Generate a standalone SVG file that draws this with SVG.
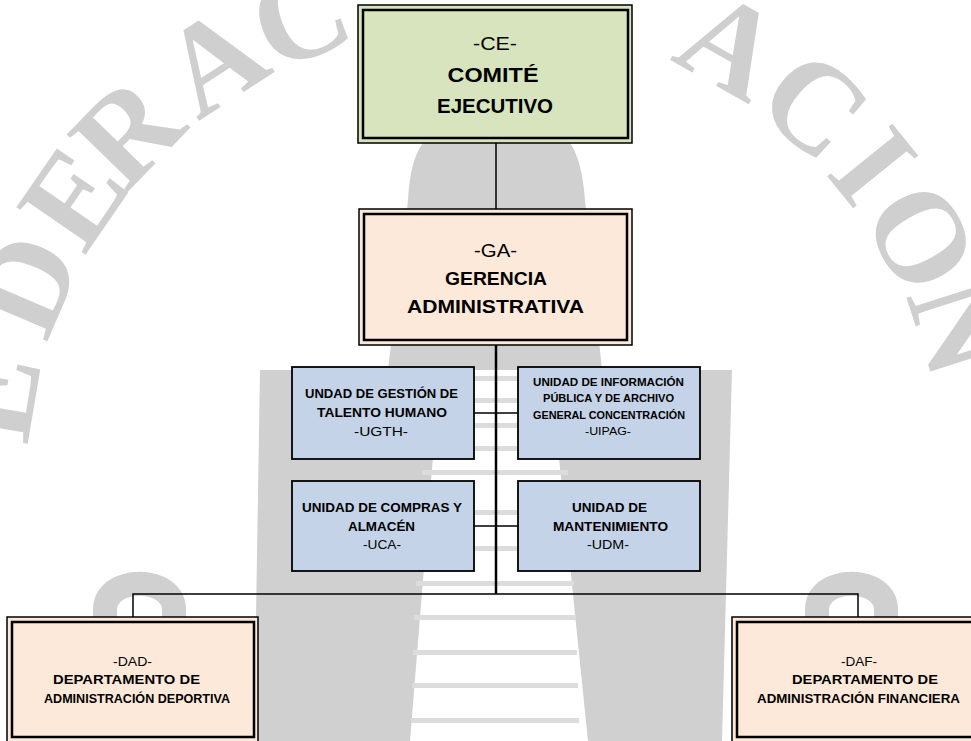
<svg xmlns="http://www.w3.org/2000/svg" width="971" height="741" viewBox="0 0 971 741">
<style>
.wm{fill:#CFCFCF;font-family:"Liberation Serif","Times New Roman",serif;font-size:128px;font-weight:bold;text-anchor:middle}
.wmf{fill:#D0D0D0}
.stripe{fill:#DCDCDC}
.t{font-family:"Liberation Sans",Arial,sans-serif;fill:#000;text-anchor:middle}
.b{font-weight:bold}
.outer{stroke:#000;stroke-width:1.5}
.inner{fill:none;stroke:#000;stroke-width:2.5}
.green{fill:#D7E4BD}
.peach{fill:#FDE9D9}
.blue{fill:#C4D3E7;stroke:#000;stroke-width:1.8}
.c{stroke:#000;stroke-width:1.5;fill:none}
.cthick{stroke:#000;stroke-width:2.5;fill:none}
</style>
<rect width="971" height="741" fill="#fff"/>
<g id="watermark">
  <path class="wmf" d="M423,143 Q410,160 408,200 L388,370 L602,370 L585,200 Q582,160 570,143 Z"/>
  <polygon class="wmf" points="260,370 440,370 410,741 254,741"/>
  <polygon class="wmf" points="550,370 732,370 722,741 588,741"/>
  <rect class="stripe" x="430" y="376" width="130" height="5"/>
  <rect class="stripe" x="428" y="398" width="134" height="5"/>
  <rect class="stripe" x="426" y="423" width="138" height="5"/>
  <rect class="stripe" x="424" y="446" width="142" height="5"/>
  <rect class="stripe" x="422" y="470" width="146" height="5"/>
  <rect class="stripe" x="420" y="510" width="150" height="5"/>
  <rect class="stripe" x="418" y="546" width="154" height="5"/>
  <rect class="stripe" x="416" y="581" width="158" height="5"/>
  <rect class="stripe" x="414" y="615" width="162" height="5"/>
  <rect class="stripe" x="413" y="650" width="164" height="5"/>
  <rect class="stripe" x="412" y="683" width="166" height="5"/>
  <rect class="stripe" x="411" y="718" width="168" height="5"/>
  <path d="M105,645 L105,610 C105,575 174,575 174,610 L174,645" fill="none" stroke="#D0D0D0" stroke-width="24"/>
  <path d="M817,645 L817,610 C817,575 886,575 886,610 L886,645" fill="none" stroke="#D0D0D0" stroke-width="24"/>
  <text class="wm" transform="translate(34.4,403.8) rotate(-80.4)">E</text>
  <text class="wm" transform="translate(64.6,300.7) rotate(-66.9)">D</text>
  <text class="wm" transform="translate(108.4,221.2) rotate(-55.5)">E</text>
  <text class="wm" transform="translate(157.4,161.4) rotate(-45.8)">R</text>
  <text class="wm" transform="translate(236.8,96.3) rotate(-32.9)">A</text>
  <text class="wm" transform="translate(316,55.4) rotate(-21.7)">C</text>
  <text class="wm" transform="translate(709.3,81.9) rotate(29.4)">A</text>
  <text class="wm" transform="translate(786.6,136.7) rotate(41.3)">C</text>
  <text class="wm" transform="translate(840.1,192.4) rotate(51)">I</text>
  <text class="wm" transform="translate(884.3,257.8) rotate(60.9)">O</text>
  <text class="wm" transform="translate(919.9,339.5) rotate(72.1)">N</text>
</g>
<g id="connectors">
  <line class="c" x1="496" y1="143" x2="496" y2="209"/>
  <line class="cthick" x1="496" y1="345" x2="496" y2="594"/>
  <line class="c" x1="474" y1="413" x2="518" y2="413"/>
  <line class="c" x1="474" y1="526" x2="518" y2="526"/>
  <polyline class="c" points="133,617 133,594 858,594 858,617"/>
</g>
<g id="ce">
  <rect class="outer green" x="358" y="5" width="274" height="138"/>
  <rect class="inner" x="363" y="10" width="265" height="128"/>
  <text class="t" x="495" y="50" font-size="18" textLength="44" lengthAdjust="spacingAndGlyphs">-CE-</text>
  <text class="t b" x="493" y="82" font-size="20" textLength="91" lengthAdjust="spacingAndGlyphs">COMITÉ</text>
  <text class="t b" x="495" y="113" font-size="20" textLength="116" lengthAdjust="spacingAndGlyphs">EJECUTIVO</text>
</g>
<g id="ga">
  <rect class="outer peach" x="359" y="209" width="273" height="136"/>
  <rect class="inner" x="364" y="214" width="263" height="126"/>
  <text class="t" x="495.5" y="257" font-size="18" textLength="43" lengthAdjust="spacingAndGlyphs">-GA-</text>
  <text class="t b" x="496" y="285" font-size="19" textLength="102" lengthAdjust="spacingAndGlyphs">GERENCIA</text>
  <text class="t b" x="495.5" y="313" font-size="19" textLength="177" lengthAdjust="spacingAndGlyphs">ADMINISTRATIVA</text>
</g>
<g id="ugth">
  <rect class="blue" x="292" y="367" width="182" height="92"/>
  <text class="t b" x="381.5" y="398" font-size="12.5" textLength="153" lengthAdjust="spacingAndGlyphs">UNDAD DE GESTIÓN DE</text>
  <text class="t b" x="382" y="417" font-size="12.5" textLength="130" lengthAdjust="spacingAndGlyphs">TALENTO HUMANO</text>
  <text class="t" x="381" y="436" font-size="12.5" textLength="54" lengthAdjust="spacingAndGlyphs">-UGTH-</text>
</g>
<g id="uipag">
  <rect class="blue" x="518" y="367" width="182" height="92"/>
  <text class="t b" x="608.5" y="386" font-size="10.5" textLength="151" lengthAdjust="spacingAndGlyphs">UNIDAD DE INFORMACIÓN</text>
  <text class="t b" x="608.5" y="402" font-size="10.5" textLength="131" lengthAdjust="spacingAndGlyphs">PÚBLICA Y DE ARCHIVO</text>
  <text class="t b" x="609" y="419" font-size="10.5" textLength="152" lengthAdjust="spacingAndGlyphs">GENERAL CONCENTRACIÓN</text>
  <text class="t" x="608" y="435" font-size="11" textLength="46" lengthAdjust="spacingAndGlyphs">-UIPAG-</text>
</g>
<g id="uca">
  <rect class="blue" x="292" y="481" width="182" height="90"/>
  <text class="t b" x="382" y="512" font-size="12.5" textLength="160" lengthAdjust="spacingAndGlyphs">UNIDAD DE COMPRAS Y</text>
  <text class="t b" x="381.5" y="531" font-size="12.5" textLength="67" lengthAdjust="spacingAndGlyphs">ALMACÉN</text>
  <text class="t" x="382" y="549" font-size="12.5" textLength="38" lengthAdjust="spacingAndGlyphs">-UCA-</text>
</g>
<g id="udm">
  <rect class="blue" x="518" y="481" width="182" height="90"/>
  <text class="t b" x="609.5" y="512" font-size="12.5" textLength="75" lengthAdjust="spacingAndGlyphs">UNIDAD DE</text>
  <text class="t b" x="610.5" y="531" font-size="12.5" textLength="115" lengthAdjust="spacingAndGlyphs">MANTENIMIENTO</text>
  <text class="t" x="608" y="549" font-size="12.5" textLength="42" lengthAdjust="spacingAndGlyphs">-UDM-</text>
</g>
<g id="dad">
  <rect class="outer peach" x="7" y="617" width="251" height="127"/>
  <rect class="inner" x="12" y="622" width="242" height="115"/>
  <text class="t" x="132.5" y="666" font-size="12" textLength="39" lengthAdjust="spacingAndGlyphs">-DAD-</text>
  <text class="t b" x="126.5" y="684" font-size="12.5" textLength="147" lengthAdjust="spacingAndGlyphs">DEPARTAMENTO DE</text>
  <text class="t b" x="137" y="703" font-size="12.5" textLength="186" lengthAdjust="spacingAndGlyphs">ADMINISTRACIÓN DEPORTIVA</text>
</g>
<g id="daf">
  <rect class="outer peach" x="732" y="617" width="253" height="127"/>
  <rect class="inner" x="737" y="622" width="243" height="115"/>
  <text class="t" x="859" y="666" font-size="12" textLength="36" lengthAdjust="spacingAndGlyphs">-DAF-</text>
  <text class="t b" x="865" y="684" font-size="12.5" textLength="146" lengthAdjust="spacingAndGlyphs">DEPARTAMENTO DE</text>
  <text class="t b" x="858.5" y="703" font-size="12.5" textLength="203" lengthAdjust="spacingAndGlyphs">ADMINISTRACIÓN FINANCIERA</text>
</g>
</svg>
